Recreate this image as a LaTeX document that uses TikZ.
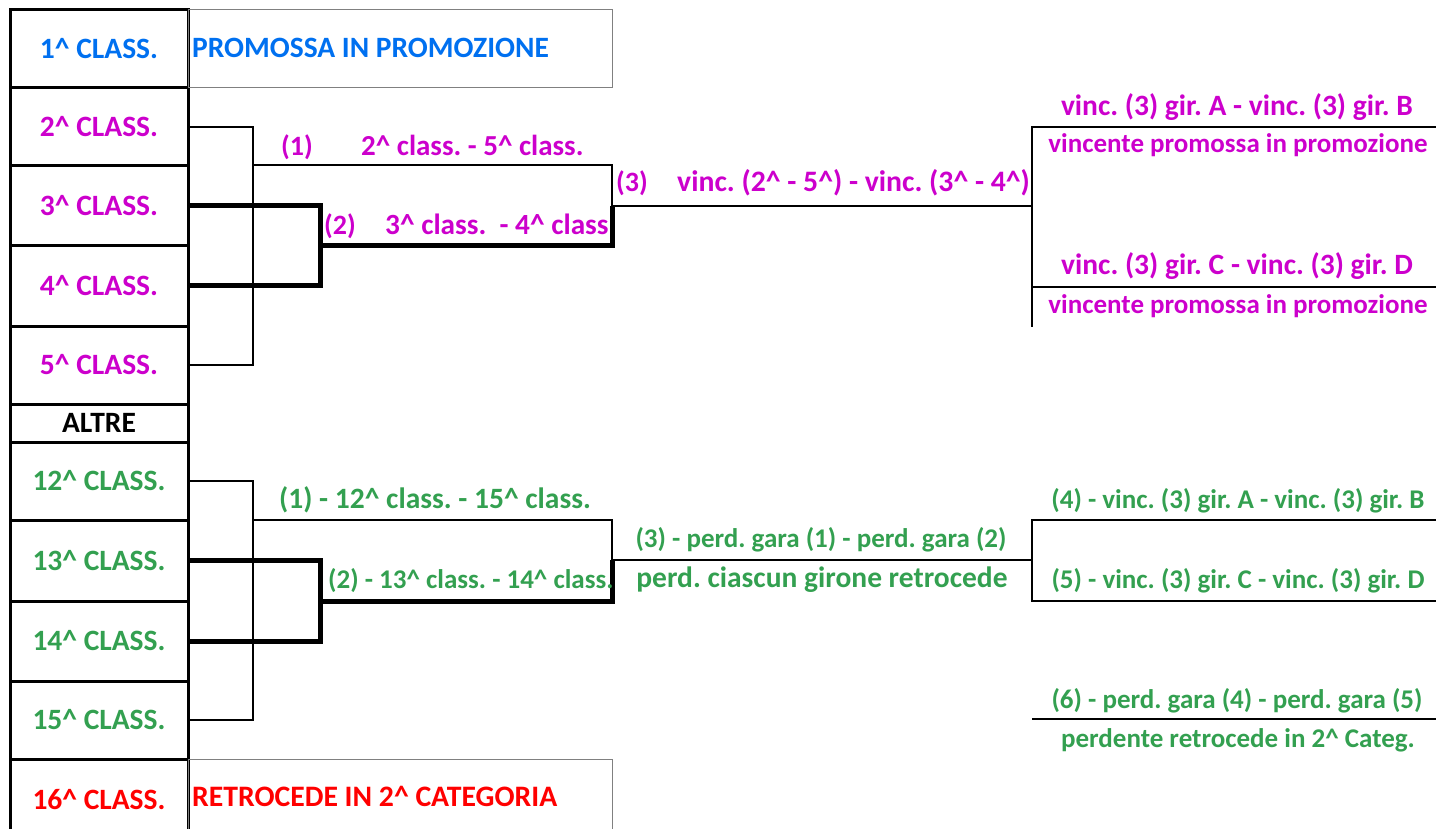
\documentclass[tikz,border=0pt]{standalone}
\usepackage{fontspec}
\setmainfont{Carlito}
\definecolor{promo}{RGB}{0, 112, 240}
\definecolor{playoff}{RGB}{204, 0, 204}
\definecolor{playout}{RGB}{51, 160, 80}
\newcommand{\ordn}{\textasciicircum}
\frenchspacing

\begin{document}
\begin{tikzpicture}[x=1pt,y=-1pt,
	cell/.style={draw, line width=3pt, minimum width=178pt, inner sep=0pt, font=\bfseries\fontsize{29.5}{30}\selectfont},
	outbox/.style={draw, gray, line width=1pt, minimum width=424pt, inner sep=0pt},
	txt/.style={inner sep=0pt, font=\bfseries\fontsize{#1}{#1}\selectfont},
	bracket/.style={line width=2.5pt},
	thickbracket/.style={line width=5pt}]
	\useasboundingbox (0,0) rectangle (1436,829);

	% colonna classifica
	\node[cell, minimum height=78pt, text=promo] (c1) at (99,49) {1\ordn{} CLASS.};
	\node[cell, minimum height=78pt, text=playoff] (c2) at (99,127) {2\ordn{} CLASS.};
	\node[cell, minimum height=80pt, text=playoff] (c3) at (99,206) {3\ordn{} CLASS.};
	\node[cell, minimum height=80pt, text=playoff] (c4) at (99,286) {4\ordn{} CLASS.};
	\node[cell, minimum height=78pt, text=playoff] (c5) at (99,365) {5\ordn{} CLASS.};
	\node[cell, minimum height=38pt] (altre) at (99,423) {ALTRE};
	\node[cell, minimum height=78pt, text=playout] (c12) at (99,481) {12\ordn{} CLASS.};
	\node[cell, minimum height=81pt, text=playout] (c13) at (99,560.5) {13\ordn{} CLASS.};
	\node[cell, minimum height=80pt, text=playout] (c14) at (99,641) {14\ordn{} CLASS.};
	\node[cell, minimum height=78pt, text=playout] (c15) at (99,720) {15\ordn{} CLASS.};
	\node[cell, minimum height=81pt, text=red] (c16) at (99,799.5) {16\ordn{} CLASS.};

	\node[outbox, minimum height=78pt] (promobox) at (400,49) {};
	\node[outbox, minimum height=81pt] (retrobox) at (400,799.5) {};
	\node[txt=29.5, promo, anchor=base west] (promotxt) at (192,58) {PROMOSSA IN PROMOZIONE};
	\node[txt=29.7, red, anchor=base west] (retrotxt) at (192,806) {RETROCEDE IN 2\ordn{} CATEGORIA};

	% play-off
	\coordinate (m1a) at (253,165);
	\coordinate (m1b) at (612,165);
	\coordinate (m2a) at (320,246);
	\coordinate (m2b) at (612,246);
	\coordinate (m3a) at (612,206);
	\coordinate (m3b) at (1032,206);
	\coordinate (f1) at (1032,127);
	\coordinate (f1e) at (1436,127);
	\coordinate (f2) at (1032,287);
	\coordinate (f2e) at (1436,287);
	\coordinate (f3) at (1032,327);
	\draw[bracket] (c2.east) -| (m1a) |- (c5.east);
	\draw[bracket] (m1a) -- (m1b) -- (m3a);
	\draw[thickbracket] (c3.east) -| (m2a) |- (c4.east);
	\draw[thickbracket] (m2a) -- (m2b) -- (m3a);
	\draw[bracket] (m3a) -- (m3b);
	\draw[bracket] (f1e) -- (f1) -- (f3);
	\draw[bracket] (f2) -- (f2e);

	\node[txt=28, playoff, anchor=base west] (g1n) at (281,156) {(1)};
	\node[txt=29, playoff, anchor=base west] (g1t) at (361,156) {2\ordn{} class. - 5\ordn{} class.};
	\node[txt=28, playoff, anchor=base west] (g2n) at (324,235) {(2)};
	\node[txt=29.3, playoff, anchor=base west] (g2t) at (385,235) {3\ordn{} class.~ - 4\ordn{} class};
	\node[txt=28, playoff, anchor=base west] (g3n) at (616,192) {(3)};
	\node[txt=29.7, playoff, anchor=base west] (g3t) at (677,192) {vinc. (2\ordn{} - 5\ordn{}) - vinc. (3\ordn{} - 4\ordn{})};
	\node[txt=29.5, playoff, anchor=base] (fab) at (1237,116) {vinc. (3) gir. A - vinc. (3) gir. B};
	\node[txt=27, playoff, anchor=base] (fabv) at (1238,153) {vincente promossa in promozione};
	\node[txt=29.5, playoff, anchor=base] (fcd) at (1237,275) {vinc. (3) gir. C - vinc. (3) gir. D};
	\node[txt=27, playoff, anchor=base] (fcdv) at (1238,313) {vincente promossa in promozione};

	% play-out
	\coordinate (m4a) at (253,520);
	\coordinate (m4b) at (612,520);
	\coordinate (m5a) at (320,601);
	\coordinate (m5b) at (612,601);
	\coordinate (m6a) at (612,560);
	\coordinate (m6b) at (1032,560);
	\coordinate (h1) at (1032,520);
	\coordinate (h1e) at (1436,520);
	\coordinate (h2) at (1032,601);
	\coordinate (h2e) at (1436,601);
	\coordinate (h3) at (1032,719);
	\coordinate (h3e) at (1436,719);
	\draw[bracket] (c12.east) -| (m4a) |- (c15.east);
	\draw[bracket] (m4a) -- (m4b) -- (m6a);
	\draw[thickbracket] (c13.east) -| (m5a) |- (c14.east);
	\draw[thickbracket] (m5a) -- (m5b) -- (m6a);
	\draw[bracket] (m6a) -- (m6b);
	\draw[bracket] (h1e) -- (h1) -- (h2) -- (h2e);
	\draw[bracket] (h3) -- (h3e);

	\node[txt=29.5, playout, anchor=base west] (o1) at (279,508) {(1) - 12\ordn{} class. - 15\ordn{} class.};
	\node[txt=27, playout, anchor=base west] (o2) at (328,588) {(2) - 13\ordn{} class. - 14\ordn{} class.};
	\node[txt=27, playout, anchor=base] (o3) at (821,547) {(3) - perd. gara (1) - perd. gara (2)};
	\node[txt=29.5, playout, anchor=base] (o3r) at (822,587) {perd. ciascun girone retrocede};
	\node[txt=27, playout, anchor=base] (o4) at (1238,508) {(4) - vinc. (3) gir. A - vinc. (3) gir. B};
	\node[txt=27, playout, anchor=base] (o5) at (1238,588) {(5) - vinc. (3) gir. C - vinc. (3) gir. D};
	\node[txt=27, playout, anchor=base] (o6) at (1237,708) {(6) - perd. gara (4) - perd. gara (5)};
	\node[txt=27, playout, anchor=base] (o6r) at (1238,747) {perdente retrocede in 2\ordn{} Categ.};
\end{tikzpicture}
\end{document}
